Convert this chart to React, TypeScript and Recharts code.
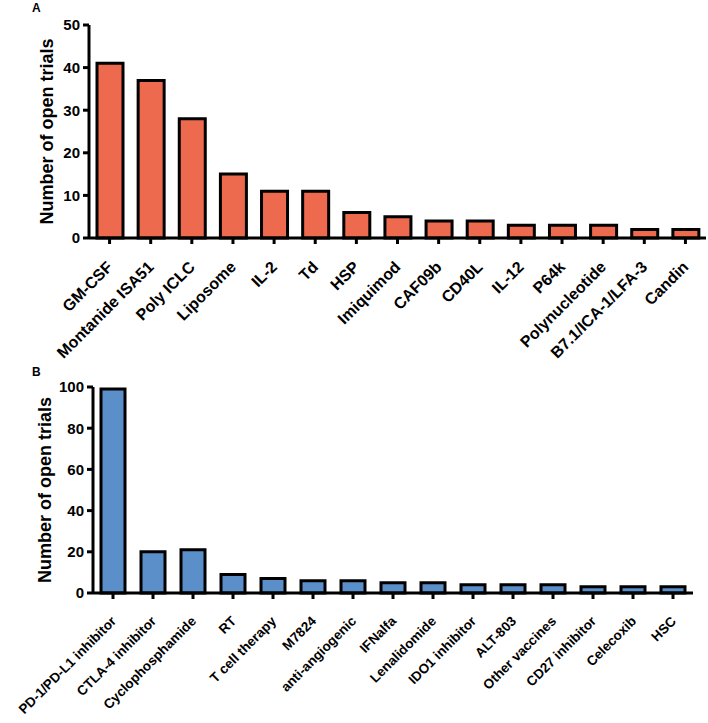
import React from "react";
import { BarChart, Bar, XAxis, YAxis } from "recharts";

const categoriesA = [
  "GM-CSF", "Montanide ISA51", "Poly ICLC", "Liposome", "IL-2", "Td", "HSP", "Imiquimod",
  "CAF09b", "CD40L", "IL-12", "P64k", "Polynucleotide", "B7.1/ICA-1/LFA-3", "Candin",
];
const valuesA = [41, 37, 28, 15, 11, 11, 6, 5, 4, 4, 3, 3, 3, 2, 2];
const ticksA = [0, 10, 20, 30, 40, 50];

const categoriesB = [
  "PD-1/PD-L1 inhibitor", "CTLA-4 inhibitor", "Cyclophosphamide", "RT", "T cell therapy", "M7824",
  "anti-angiogenic", "IFNalfa", "Lenalidomide", "IDO1 inhibitor", "ALT-803", "Other vaccines",
  "CD27 inhibitor", "Celecoxib", "HSC",
];
const valuesB = [99, 20, 21, 9, 7, 6, 6, 5, 5, 4, 4, 4, 3, 3, 3];
const ticksB = [0, 20, 40, 60, 80, 100];

const yTitle = "Number of open trials";

const FONT = "'Liberation Sans', Arial, Helvetica, sans-serif";

const dataA = categoriesA.map((name, i) => ({ name, value: valuesA[i] }));
const dataB = categoriesB.map((name, i) => ({ name, value: valuesB[i] }));

const makeXTick = (fontSize: number, dx: number, dy: number) => (props: any) => {
  const { x, y, payload } = props;
  return (
    <g transform={`translate(${x + dx},${y + dy})`}>
      <text
        x={0}
        y={0}
        textAnchor="end"
        transform="rotate(-45)"
        fontFamily={FONT}
        fontWeight={700}
        fontSize={fontSize}
        fill="#000"
      >
        {payload.value}
      </text>
    </g>
  );
};

const makeYTitle = (dx: number) => (props: any) => {
  const vb = props.viewBox || {};
  const cx = (vb.x || 0) + dx;
  const cy = (vb.y || 0) + (vb.height || 0) / 2;
  return (
    <text
      x={cx}
      y={cy}
      textAnchor="middle"
      dominantBaseline="central"
      transform={`rotate(-90, ${cx}, ${cy})`}
      fontFamily={FONT}
      fontWeight={700}
      fontSize={18}
      fill="#000"
    >
      {yTitle}
    </text>
  );
};

const axisStroke = { stroke: "#000", strokeWidth: 3 };

export default function App() {
  return (
    <div style={{ position: "absolute", left: 0, top: 0, width: 708, height: 723, background: "#fff" }}>
      <div style={{ position: "absolute", left: 0, top: 0 }}>
        <BarChart width={708} height={370} data={dataA} margin={{ top: 25, right: 2, left: 0, bottom: 0 }}>
          <XAxis
            dataKey="name"
            interval={0}
            height={132}
            tick={makeXTick(16, 4, 22)}
            tickSize={6}
            tickMargin={2}
            axisLine={axisStroke}
            tickLine={axisStroke}
          />
          <YAxis
            width={89}
            domain={[0, 50]}
            ticks={ticksA}
            interval={0}
            tickSize={6}
            tickMargin={3}
            axisLine={axisStroke}
            tickLine={axisStroke}
            tick={{ fontFamily: FONT, fontWeight: 700, fontSize: 15, fill: "#000" }}
            label={makeYTitle(47)}
          />
          <Bar dataKey="value" fill="#EE6A4F" stroke="#000" strokeWidth={3} barSize={26} isAnimationActive={false} />
        </BarChart>
      </div>
      <div style={{ position: "absolute", left: 0, top: 370 }}>
        <BarChart width={708} height={353} data={dataB} margin={{ top: 17, right: 15, left: 0, bottom: 0 }}>
          <XAxis
            dataKey="name"
            interval={0}
            height={130}
            tick={makeXTick(13.5, 4, 21)}
            tickSize={6}
            tickMargin={2}
            axisLine={axisStroke}
            tickLine={axisStroke}
          />
          <YAxis
            width={93}
            domain={[0, 100]}
            ticks={ticksB}
            interval={0}
            tickSize={6}
            tickMargin={3}
            axisLine={axisStroke}
            tickLine={axisStroke}
            tick={{ fontFamily: FONT, fontWeight: 700, fontSize: 15, fill: "#000" }}
            label={makeYTitle(45)}
          />
          <Bar dataKey="value" fill="#5A8FCA" stroke="#000" strokeWidth={3} barSize={24} isAnimationActive={false} />
        </BarChart>
      </div>
      <div style={{ position: "absolute", left: 32, top: 1, fontFamily: FONT, fontWeight: 700, fontSize: 12 }}>A</div>
      <div style={{ position: "absolute", left: 32, top: 365, fontFamily: FONT, fontWeight: 700, fontSize: 12 }}>B</div>
    </div>
  );
}
